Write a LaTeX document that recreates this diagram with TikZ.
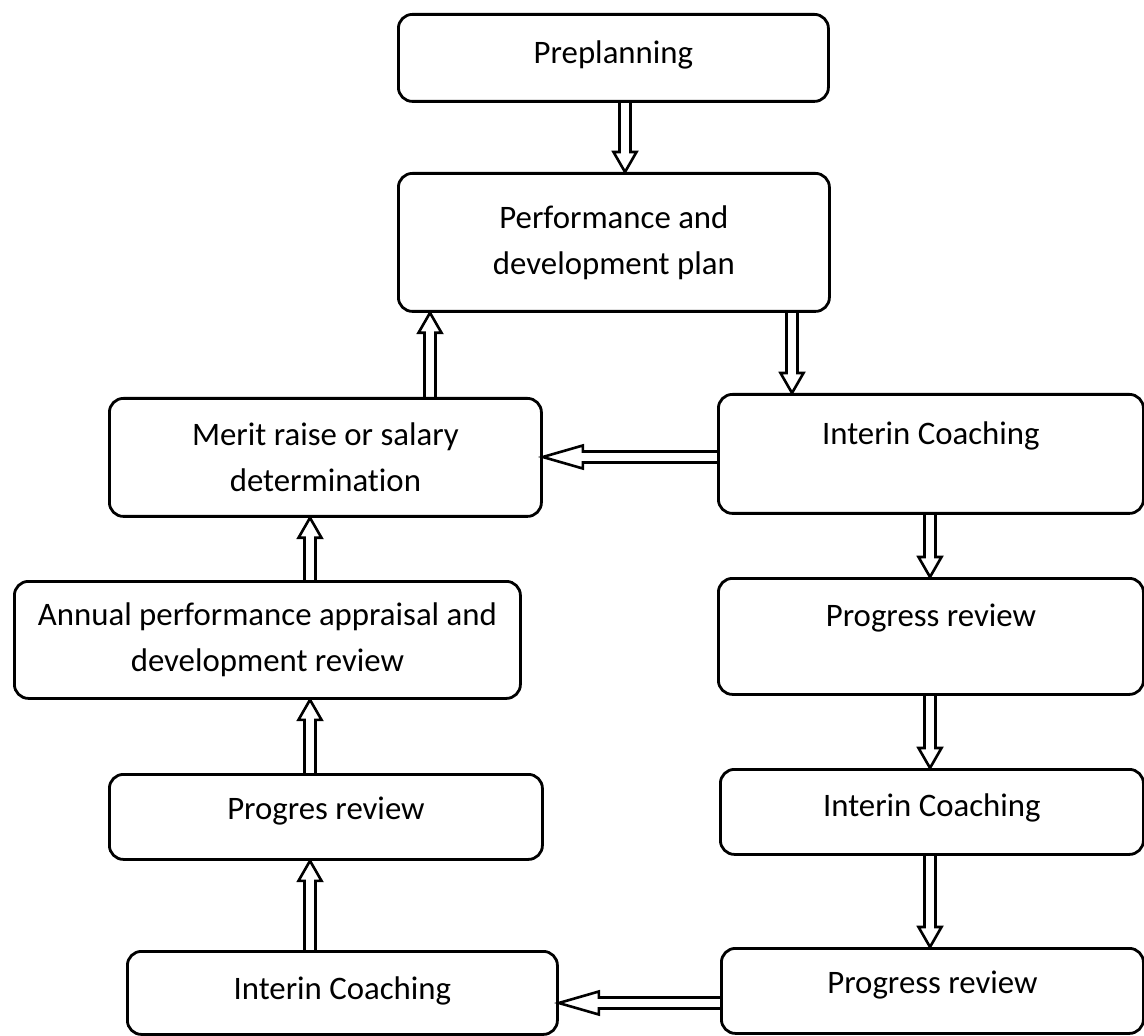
\documentclass[tikz,border=0pt]{standalone}
\usepackage{fontspec}
\setmainfont{Carlito}[Ligatures=NoCommon]
\usetikzlibrary{calc}

% hollow double-line arrow: [head length]{from}{to}
\newcommand{\hollowarrow}[3][10pt]{%
  \draw[dblarrow] ($(#2)!2.75pt!90:(#3)$)
    -- ($(#3)!#1!(#2)!2.75pt!90:(#3)$)
    -- ($(#3)!#1!(#2)!5.75pt!90:(#3)$)
    -- (#3)
    -- ($(#3)!#1!(#2)!5.75pt!-90:(#3)$)
    -- ($(#3)!#1!(#2)!2.75pt!-90:(#3)$)
    -- ($(#2)!2.75pt!-90:(#3)$);}

\begin{document}
\begin{tikzpicture}[
    x=0.5pt, y=-0.5pt,
    font=\fontsize{16.4}{23}\selectfont,
    box/.style={draw, line width=1.4pt, rounded corners=7pt, align=center, inner sep=0pt, anchor=north west},
    dblarrow/.style={line width=1.3pt, line join=miter}
]
\useasboundingbox (0,0) rectangle (1144,1036);

% top
\node[box, minimum width=215pt, text height=24.5pt, text depth=19pt] (pre) at (397,13) {Preplanning};
\node[box, minimum width=215.5pt, minimum height=69pt] (perf) at (397,172) {Performance and\\development plan};

% left column
\node[box, minimum width=216pt, minimum height=59pt] (merit) at (108,397) {Merit raise or salary\\determination};
\node[box, minimum width=253pt, minimum height=58.5pt] (annual) at (13,580) {Annual performance appraisal and\\development review};
\node[box, minimum width=216.5pt, text height=22.5pt, text depth=20pt] (progres) at (108,773) {Progres review};
\node[box, minimum width=215pt, text height=24pt, text depth=17.5pt] (intbl) at (126,950) {Interin Coaching};

% right column
\node[box, minimum width=212.5pt, text height=25pt, text depth=34.5pt] (int1) at (717,393) {Interin Coaching};
\node[box, minimum width=212.5pt, text height=24pt, text depth=34pt] (prog1) at (717,577) {Progress review};
\node[box, minimum width=211.5pt, text height=23.5pt, text depth=19pt] (int2) at (719,768) {Interin Coaching};
\node[box, minimum width=211pt, text height=22.5pt, text depth=20pt] (progb) at (720,947) {Progress review};

% arrow lines
\coordinate (xa) at (625,0);
\coordinate (xb) at (792,0);
\coordinate (xc) at (430,0);
\coordinate (xl) at (310,0);
\coordinate (xr) at (930,0);
\coordinate (ya) at (0,457);
\coordinate (yb) at (0,1003);

\hollowarrow{xa |- pre.south}{xa |- perf.north}
\hollowarrow{xb |- perf.south}{xb |- int1.north}
\hollowarrow{xc |- merit.north}{xc |- perf.south}
\hollowarrow[20pt]{int1.west |- ya}{merit.east |- ya}
\hollowarrow{xl |- annual.north}{xl |- merit.south}
\hollowarrow{xl |- progres.north}{xl |- annual.south}
\hollowarrow{xl |- intbl.north}{xl |- progres.south}
\hollowarrow{xr |- int1.south}{xr |- prog1.north}
\hollowarrow{xr |- prog1.south}{xr |- int2.north}
\hollowarrow{xr |- int2.south}{xr |- progb.north}
\hollowarrow[20pt]{progb.west |- yb}{intbl.east |- yb}
\end{tikzpicture}
\end{document}
